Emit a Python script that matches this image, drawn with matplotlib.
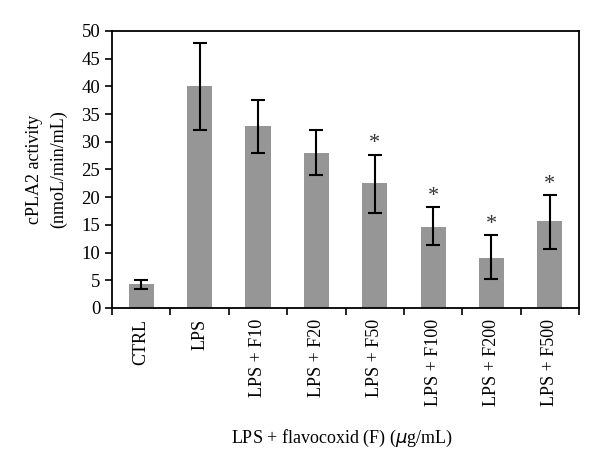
import numpy as np
import matplotlib.pyplot as plt

categories = ["CTRL", "LPS", "LPS + F10", "LPS + F20", "LPS + F50",
              "LPS + F100", "LPS + F200", "LPS + F500"]
values = [4.3, 40.0, 32.8, 28.0, 22.6, 14.7, 9.1, 15.7]
err_low = [0.8, 7.9, 4.8, 4.0, 5.4, 3.4, 3.8, 5.0]
err_high = [0.7, 7.8, 4.7, 4.1, 5.1, 3.5, 4.1, 4.7]
significant = [False, False, False, False, True, True, True, True]


def main():
    plt.rcParams['font.family'] = ['Liberation Serif', 'DejaVu Serif']
    fig = plt.figure(figsize=(6, 4.68), dpi=100)
    ax = fig.add_axes([0.1867, 0.342, 0.7783, 0.5918])

    x = np.arange(len(categories))
    ax.bar(x, values, width=0.43, color="#969696", zorder=2)
    ax.errorbar(x, values, yerr=[err_low, err_high], fmt="none",
                ecolor="black", elinewidth=1.5, capsize=5, capthick=1.5, zorder=3)

    for xi, v, eh, s in zip(x, values, err_high, significant):
        if s:
            ax.text(xi, v + eh + 0.2, "*", ha="center", va="bottom",
                    fontsize=16, color="#333333")

    ax.set_xlim(-0.5, len(categories) - 0.5)
    ax.set_ylim(0, 50)
    ax.set_yticks(np.arange(0, 51, 5))
    ax.tick_params(axis="y", labelsize=13.5, direction="out", length=5, width=1.2)

    # ticks between categories, labels centered under bars
    ax.set_xticks(np.arange(len(categories) + 1) - 0.5)
    ax.set_xticklabels([])
    ax.set_xticks(x, minor=True)
    ax.set_xticklabels(categories, minor=True, rotation=90, fontsize=13)
    ax.tick_params(axis="x", which="major", direction="out", length=5, width=1.2)
    ax.tick_params(axis="x", which="minor", length=0, pad=8)

    for sp in ax.spines.values():
        sp.set_linewidth(1.3)

    ax.set_ylabel("cPLA2 activity\n(nmoL/min/mL)", fontsize=13, labelpad=10,
                  linespacing=1.55)
    fig.text(0.57, 0.064, r"LPS + flavocoxid (F) ($\mu$g/mL)", ha="center",
             va="center", fontsize=13)

    fig.savefig("out.png", dpi=100)


if __name__ == '__main__':
    main()
